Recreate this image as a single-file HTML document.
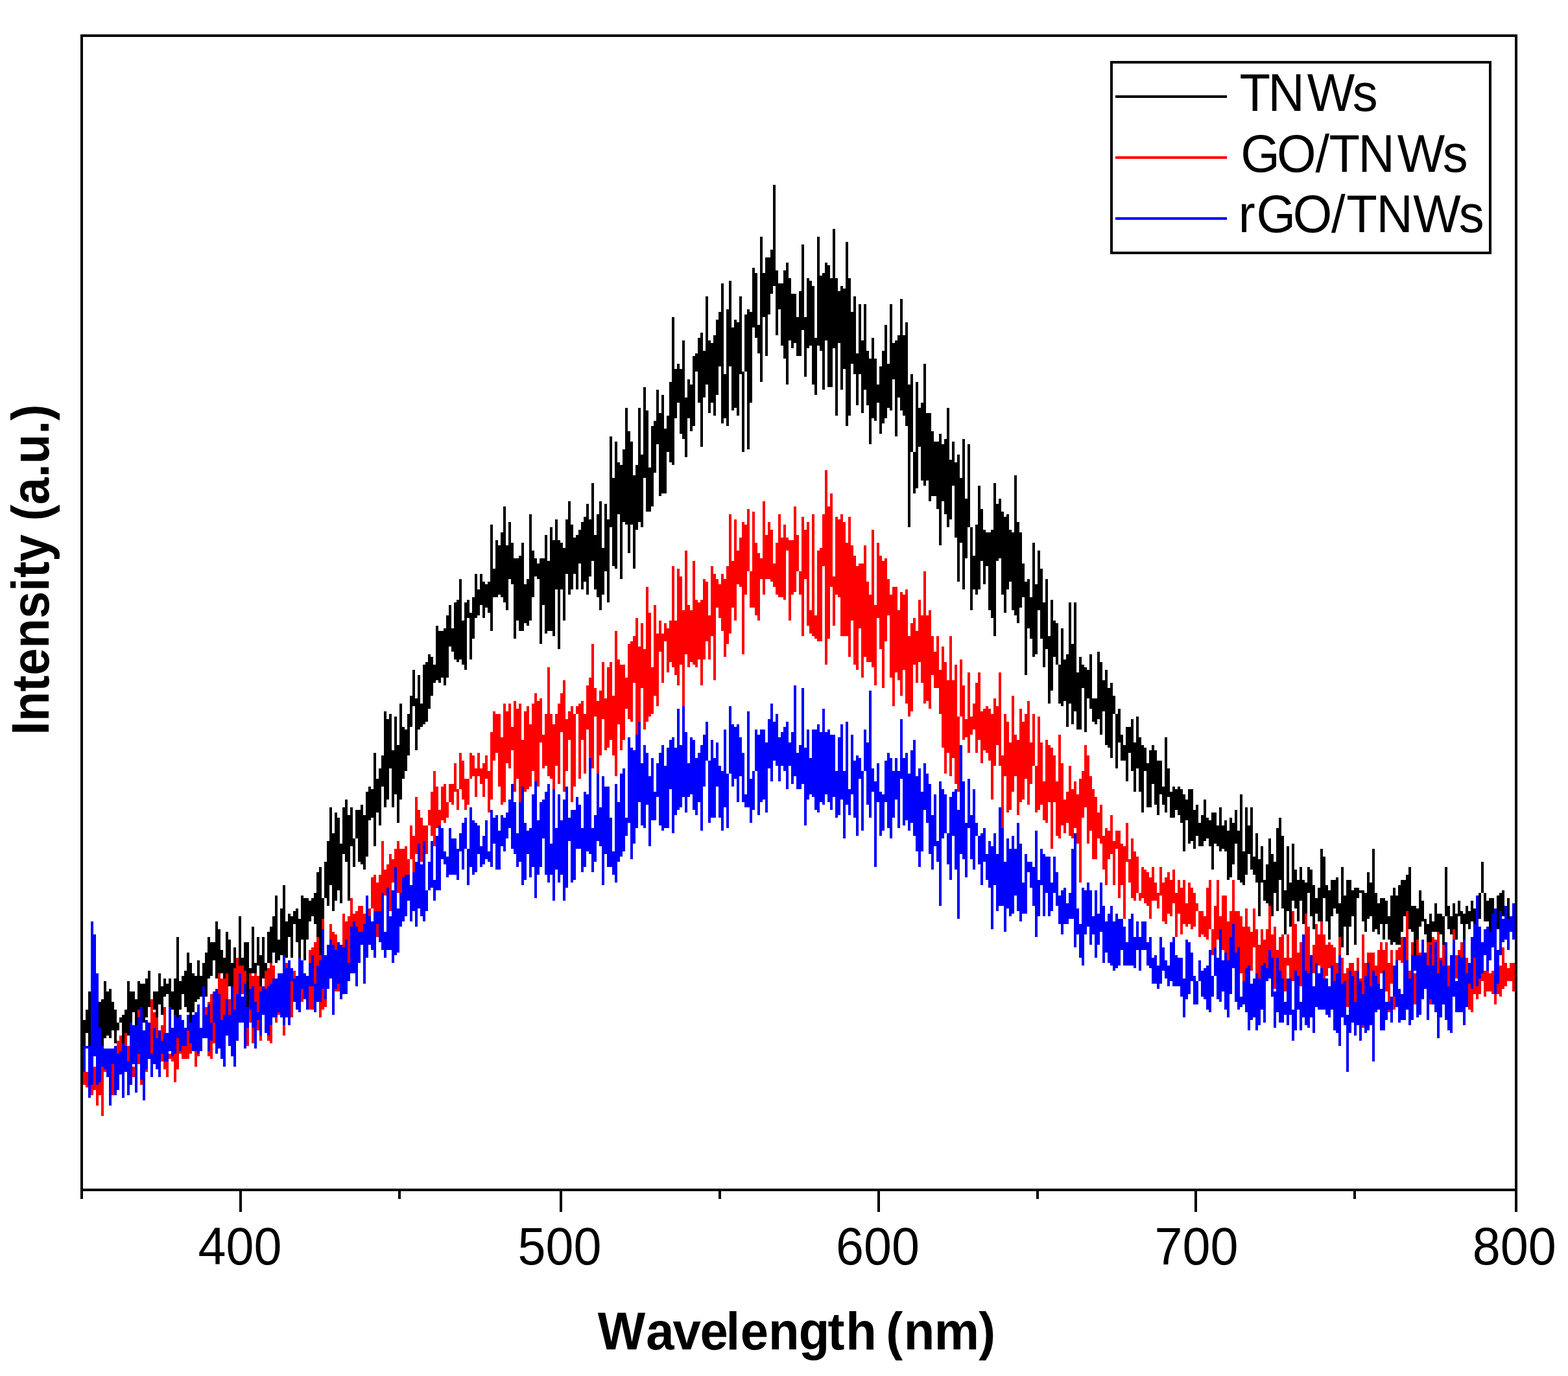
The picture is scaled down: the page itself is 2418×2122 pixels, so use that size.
<!DOCTYPE html>
<html lang="en"><head><meta charset="utf-8"><title>PL spectra</title>
<style>html,body{margin:0;padding:0;background:#fff}body{width:2418px;height:2122px;overflow:hidden}svg{display:block}</style>
</head><body>
<svg width="2418" height="2122" viewBox="0 0 2418 2122" shape-rendering="crispEdges">
<rect width="2418" height="2122" fill="#fff"/>
<g id="curves">
<path d="M126 1585V1625M130 1573V1629M134 1557V1593M138 1529V1621M142 1581V1617M146 1565V1601M150 1557V1589M154 1545V1585M158 1541V1621M162 1513V1601M166 1529V1597M170 1525V1601M174 1545V1589M178 1557V1609M182 1577V1589M186 1569V1577M190 1565V1621M194 1557V1601M198 1513V1597M202 1529V1577M206 1529V1561M210 1541V1581M214 1513V1577M218 1517V1597M222 1517V1577M226 1509V1569M230 1497V1553M234 1541V1581M238 1529V1557M242 1529V1577M246 1501V1549M250 1521V1565M254 1509V1537M258 1517V1533M262 1509V1573M266 1529V1557M270 1509V1573M274 1445V1573M278 1513V1557M282 1505V1533M286 1497V1553M290 1469V1561M294 1485V1577M298 1501V1561M302 1505V1545M306 1481V1541M310 1505V1537M314 1485V1529M318 1469V1537M322 1445V1509M326 1453V1505M330 1453V1481M334 1421V1509M338 1433V1501M342 1465V1501M346 1477V1517M350 1437V1537M354 1449V1521M358 1485V1537M362 1461V1517M366 1497V1541M370 1413V1497M374 1477V1517M378 1453V1509M382 1453V1553M386 1493V1545M390 1429V1501M394 1485V1505M398 1445V1489M402 1473V1541M406 1445V1509M410 1485V1541M414 1437V1485M418 1429V1493M422 1413V1469M426 1381V1485M430 1449V1481M434 1401V1473M438 1365V1477M442 1421V1477M446 1409V1445M450 1413V1477M454 1405V1425M458 1401V1453M462 1417V1477M466 1381V1449M470 1385V1481M474 1385V1449M478 1389V1421M482 1385V1413M486 1377V1425M490 1345V1457M494 1337V1485M498 1385V1429M502 1329V1385M506 1297V1397M510 1245V1365M514 1285V1405M518 1253V1389M522 1261V1373M526 1301V1393M530 1245V1317M534 1233V1329M538 1257V1389M542 1245V1305M546 1293V1337M550 1249V1293M554 1249V1329M558 1241V1333M562 1257V1341M566 1221V1321M570 1213V1265M574 1217V1261M578 1161V1305M582 1201V1253M586 1185V1273M590 1165V1213M594 1097V1245M598 1109V1233M602 1101V1185M606 1157V1245M610 1105V1225M614 1149V1269M618 1085V1233M622 1121V1201M626 1125V1189M630 1101V1165M634 1073V1121M638 1033V1089M642 1077V1157M646 1041V1125M650 1085V1121M654 1025V1117M658 1021V1113M662 1009V1093M666 1013V1073M670 1025V1053M674 965V1049M678 973V1053M682 973V1045M686 969V1057M690 949V1045M694 933V997M698 969V1005M702 929V1017M706 925V1021M710 893V1017M714 957V1025M718 929V1033M722 925V953M726 945V1017M730 921V985M734 885V953M738 909V949M742 885V933M746 897V953M750 901V937M754 897V945M758 809V973M762 877V921M766 833V921M770 841V917M774 821V921M778 781V929M782 841V941M786 805V893M790 837V901M794 861V985M798 861V957M802 857V973M806 837V973M810 901V961M814 893V965M818 793V957M822 849V921M826 861V889M830 869V893M834 861V993M838 861V933M842 825V977M846 865V973M850 813V973M854 833V981M858 801V909M862 833V1001M866 837V909M870 845V957M874 801V885M878 773V917M882 809V909M886 829V885M890 825V909M894 817V869M898 805V909M902 797V897M906 777V917M910 801V889M914 745V865M918 825V909M922 793V921M926 773V941M930 845V917M934 777V881M938 801V929M942 673V813M946 737V873M950 681V877M954 713V793M958 717V893M962 693V805M966 629V809M970 665V853M974 681V809M978 733V877M982 717V817M986 629V805M990 701V813M994 597V737M998 633V789M1002 721V789M1006 657V781M1010 649V729M1014 601V685M1018 637V765M1022 609V761M1026 661V761M1030 641V697M1034 589V713M1038 489V717M1042 569V645M1046 561V621M1050 569V669M1054 525V677M1058 613V705M1062 585V645M1066 593V665M1070 549V657M1074 545V573M1078 521V621M1082 513V689M1086 541V613M1090 457V593M1094 525V637M1098 529V621M1102 517V641M1106 493V609M1110 481V565M1114 437V653M1118 577V645M1122 477V657M1126 433V565M1130 505V633M1134 493V629M1138 497V641M1142 457V577M1146 573V697M1150 485V573M1154 477V693M1158 481V621M1162 413V505M1166 421V521M1170 501V545M1174 365V589M1178 421V489M1182 397V549M1186 397V485M1190 385V453M1194 285V441M1198 417V517M1202 437V477M1206 437V533M1210 417V553M1214 405V593M1218 429V525M1222 453V537M1226 453V529M1230 489V549M1234 449V549M1238 377V509M1242 489V581M1246 429V537M1250 433V533M1254 441V593M1258 521V609M1262 365V533M1266 425V541M1270 421V601M1274 405V525M1278 409V597M1282 429V597M1286 353V537M1290 429V641M1294 449V529M1298 441V601M1302 445V569M1306 373V657M1310 429V641M1314 481V561M1318 457V577M1322 545V625M1326 469V577M1330 525V637M1334 469V601M1338 541V625M1342 553V685M1346 521V645M1350 553V649M1354 593V621M1358 565V669M1362 541V653M1366 501V645M1370 561V629M1374 469V633M1378 529V585M1382 525V673M1386 517V613M1390 461V633M1394 517V641M1398 497V657M1402 593V813M1406 577V697M1410 697V761M1414 589V753M1418 629V689M1422 621V741M1426 561V749M1430 637V741M1434 637V773M1438 665V765M1442 681V765M1446 681V785M1450 669V841M1454 685V773M1458 677V793M1462 629V813M1466 709V801M1470 681V749M1474 713V829M1478 701V897M1482 737V837M1486 677V909M1490 769V861M1494 685V813M1498 813V941M1502 857V909M1506 809V917M1510 749V909M1514 785V865M1518 817V901M1522 821V873M1526 821V941M1530 817V953M1534 745V981M1538 777V865M1542 769V861M1546 789V917M1550 797V945M1554 793V909M1558 817V897M1562 821V941M1566 733V949M1570 805V961M1574 821V937M1578 869V921M1582 897V1041M1586 893V969M1590 921V985M1594 837V1013M1598 901V1009M1602 849V941M1606 877V985M1610 929V1029M1614 893V1001M1618 981V1085M1622 925V1065M1626 957V1013M1630 961V1025M1634 1025V1085M1638 969V1089M1642 1017V1081M1646 1009V1121M1650 929V1085M1654 993V1117M1658 929V1097M1662 1037V1125M1666 1013V1125M1670 1025V1061M1674 1029V1129M1678 1033V1077M1682 1009V1093M1686 1077V1113M1690 1077V1117M1694 1005V1109M1698 1021V1133M1702 1049V1097M1706 1033V1149M1710 1061V1153M1714 1053V1169M1718 1073V1101M1722 1101V1185M1726 1093V1145M1730 1133V1173M1734 1149V1173M1738 1121V1205M1742 1121V1161M1746 1109V1189M1750 1145V1221M1754 1105V1185M1758 1137V1221M1762 1149V1253M1766 1153V1189M1770 1177V1245M1774 1157V1245M1778 1149V1209M1782 1157V1241M1786 1173V1257M1790 1173V1225M1794 1213V1241M1798 1137V1253M1802 1185V1229M1806 1221V1261M1810 1213V1261M1814 1217V1249M1818 1213V1257M1822 1217V1269M1826 1225V1313M1830 1233V1265M1834 1217V1301M1838 1217V1297M1842 1249V1309M1846 1241V1289M1850 1269V1305M1854 1257V1305M1858 1233V1297M1862 1261V1293M1866 1265V1305M1870 1253V1341M1874 1253V1301M1878 1273V1305M1882 1245V1313M1886 1273V1309M1890 1265V1313M1894 1281V1357M1898 1261V1353M1902 1269V1333M1906 1249V1301M1910 1281V1357M1914 1225V1361M1918 1313V1365M1922 1245V1349M1926 1273V1317M1930 1245V1341M1934 1321V1349M1938 1285V1361M1942 1325V1413M1946 1305V1361M1950 1357V1389M1954 1333V1393M1958 1293V1405M1962 1317V1413M1966 1329V1377M1970 1277V1405M1974 1261V1357M1978 1289V1401M1982 1373V1441M1986 1305V1405M1990 1361V1429M1994 1301V1389M1998 1341V1401M2002 1357V1421M2006 1337V1389M2010 1357V1425M2014 1361V1409M2018 1337V1377M2022 1341V1413M2026 1365V1433M2030 1385V1409M2034 1369V1421M2038 1309V1441M2042 1321V1385M2046 1365V1421M2050 1373V1449M2054 1357V1413M2058 1357V1401M2062 1353V1409M2066 1393V1461M2070 1337V1461M2074 1381V1429M2078 1357V1473M2082 1357V1429M2086 1373V1413M2090 1369V1457M2094 1369V1385M2098 1373V1377M2102 1373V1421M2106 1377V1437M2110 1345V1417M2114 1361V1413M2118 1309V1437M2122 1377V1433M2126 1393V1441M2130 1385V1425M2134 1385V1449M2138 1389V1425M2142 1413V1449M2146 1381V1457M2150 1369V1453M2154 1381V1457M2158 1365V1457M2162 1357V1437M2166 1357V1413M2170 1349V1461M2174 1337V1433M2178 1397V1437M2182 1397V1473M2186 1401V1469M2190 1373V1429M2194 1389V1421M2198 1417V1441M2202 1425V1465M2206 1409V1485M2210 1421V1437M2214 1393V1437M2218 1409V1445M2222 1409V1441M2226 1413V1461M2230 1337V1413M2234 1397V1433M2238 1413V1441M2242 1393V1461M2246 1409V1449M2250 1389V1413M2254 1405V1425M2258 1409V1457M2262 1397V1425M2266 1405V1433M2270 1389V1421M2274 1401V1457M2278 1417V1445M2282 1377V1417M2286 1329V1377M2290 1377V1421M2294 1389V1421M2298 1385V1457M2302 1385V1461M2306 1413V1445M2310 1381V1433M2314 1377V1433M2318 1373V1413M2322 1397V1429M2326 1385V1453M2330 1417V1437M2334 1397V1421M2338 1393V1429" stroke="#000" stroke-width="4" fill="none"/>
<path d="M126 1633V1665M130 1649V1673M134 1653V1677M138 1637V1665M142 1649V1689M146 1645V1681M150 1633V1705M154 1645V1689M158 1629V1721M162 1629V1653M166 1625V1661M170 1637V1677M174 1633V1689M178 1617V1681M182 1605V1657M186 1597V1633M190 1625V1645M194 1593V1625M198 1613V1649M202 1585V1661M206 1645V1661M210 1621V1665M214 1557V1641M218 1617V1673M222 1601V1697M226 1581V1653M230 1585V1617M234 1541V1645M238 1561V1633M242 1569V1609M246 1589V1629M250 1581V1637M254 1553V1649M258 1605V1661M262 1625V1633M266 1609V1637M270 1585V1669M274 1597V1649M278 1569V1625M282 1577V1633M286 1613V1633M290 1585V1633M294 1589V1625M298 1569V1617M302 1573V1645M306 1565V1629M310 1593V1617M314 1573V1593M318 1553V1585M322 1545V1629M326 1533V1633M330 1549V1609M334 1525V1573M338 1501V1593M342 1509V1609M346 1509V1581M350 1501V1577M354 1541V1601M358 1565V1625M362 1493V1569M366 1477V1537M370 1489V1553M374 1489V1533M378 1497V1577M382 1577V1613M386 1501V1577M390 1505V1609M394 1501V1577M398 1505V1589M402 1521V1605M406 1525V1561M410 1497V1569M414 1493V1605M418 1485V1609M422 1489V1569M426 1537V1577M430 1533V1565M434 1517V1561M438 1477V1597M442 1485V1557M446 1509V1537M450 1501V1569M454 1497V1545M458 1513V1537M462 1509V1549M466 1497V1545M470 1517V1537M474 1509V1557M478 1465V1557M482 1461V1557M486 1453V1561M490 1445V1509M494 1473V1569M498 1417V1557M502 1477V1553M506 1469V1521M510 1425V1509M514 1437V1497M518 1441V1529M522 1461V1529M526 1461V1517M530 1409V1477M534 1421V1469M538 1413V1489M542 1385V1497M546 1409V1449M550 1405V1457M554 1397V1453M558 1397V1449M562 1409V1429M566 1381V1461M570 1401V1425M574 1353V1401M578 1349V1409M582 1361V1445M586 1349V1421M590 1297V1417M594 1341V1381M598 1333V1381M602 1317V1405M606 1325V1361M610 1309V1345M614 1297V1377M618 1309V1381M622 1309V1373M626 1305V1357M630 1325V1357M634 1273V1325M638 1289V1349M642 1229V1317M646 1249V1301M650 1261V1329M654 1273V1313M658 1273V1317M662 1249V1273M666 1221V1289M670 1189V1305M674 1213V1277M678 1249V1289M682 1213V1265M686 1209V1269M690 1237V1261M694 1209V1237M698 1209V1241M702 1177V1221M706 1217V1249M710 1161V1217M714 1173V1233M718 1201V1249M722 1201V1241M726 1161V1201M730 1165V1197M734 1185V1229M738 1161V1197M742 1185V1209M746 1177V1229M750 1165V1201M754 1189V1253M758 1129V1233M762 1097V1173M766 1101V1161M770 1101V1213M774 1137V1241M778 1085V1237M782 1097V1177M786 1085V1185M790 1121V1157M794 1081V1221M798 1093V1201M802 1085V1253M806 1141V1225M810 1097V1221M814 1089V1217M818 1117V1213M822 1085V1189M826 1069V1249M830 1081V1213M834 1077V1145M838 1133V1185M842 1101V1181M846 1029V1197M850 1101V1201M854 1117V1217M858 1101V1181M862 1085V1209M866 1069V1129M870 1049V1221M874 1109V1189M878 1097V1141M882 1089V1237M886 1101V1213M890 1089V1101M894 1085V1201M898 1081V1141M902 1101V1193M906 1057V1125M910 1045V1169M914 993V1185M918 1061V1105M922 1081V1193M926 1065V1165M930 1021V1109M934 1077V1157M938 1029V1153M942 1021V1141M946 1073V1165M950 973V1197M954 1017V1117M958 1025V1157M962 1025V1141M966 1045V1093M970 993V1109M974 989V1113M978 981V1053M982 953V1141M986 997V1125M990 961V1061M994 1001V1125M998 905V1113M1002 945V1105M1006 1029V1101M1010 933V1073M1014 977V1089M1018 957V1005M1022 977V1053M1026 961V989M1030 969V1037M1034 957V1021M1038 873V1029M1042 957V1041M1046 877V1057M1050 889V1025M1054 941V1089M1058 849V1009M1062 933V1029M1066 941V1021M1070 865V1025M1074 925V1029M1078 929V1017M1082 925V1057M1086 893V1017M1090 897V989M1094 949V1017M1098 873V981M1102 885V1049M1106 893V937M1110 901V953M1114 885V973M1118 893V1013M1122 873V993M1126 793V977M1130 865V937M1134 801V957M1138 849V901M1142 829V905M1146 805V1009M1150 809V917M1154 785V881M1158 881V937M1162 789V937M1166 837V949M1170 853V957M1174 861V893M1178 773V917M1182 825V893M1186 805V893M1190 817V897M1194 869V905M1198 837V917M1202 793V921M1206 829V921M1210 809V925M1214 829V849M1218 833V957M1222 833V917M1226 781V913M1230 825V881M1234 881V917M1238 797V981M1242 817V893M1246 805V965M1250 941V977M1254 793V981M1258 949V985M1262 849V989M1266 845V989M1270 793V873M1274 725V1025M1278 781V985M1282 761V905M1286 889V965M1290 797V917M1294 801V921M1298 793V981M1302 805V981M1306 837V981M1310 797V1013M1314 841V957M1318 857V1025M1322 873V1033M1326 869V969M1330 869V1045M1334 841V1013M1338 897V1021M1342 917V1021M1346 817V1029M1350 933V1057M1354 837V953M1358 857V1001M1362 865V1061M1366 861V989M1370 893V949M1374 917V1045M1378 905V1089M1382 905V1037M1386 941V1049M1390 913V1073M1394 917V1033M1398 909V1085M1402 981V1105M1406 961V1097M1410 953V1025M1414 973V1053M1418 925V1021M1422 949V1053M1426 881V1085M1430 949V1081M1434 941V1093M1438 981V1041M1442 1005V1061M1446 981V1061M1450 1033V1101M1454 997V1153M1458 1021V1193M1462 1049V1161M1466 981V1197M1470 1049V1169M1474 1025V1209M1478 1105V1221M1482 1017V1105M1486 1057V1141M1490 1109V1137M1494 1037V1161M1498 1105V1133M1502 1085V1125M1506 1053V1161M1510 1037V1141M1514 1097V1177M1518 1093V1157M1522 1089V1161M1526 1093V1173M1530 1101V1233M1534 1077V1181M1538 1089V1149M1542 1037V1181M1546 1165V1277M1550 1101V1197M1554 1113V1253M1558 1145V1249M1562 1073V1221M1566 1133V1197M1570 1141V1257M1574 1093V1237M1578 1113V1233M1582 1101V1201M1586 1081V1241M1590 1145V1209M1594 1101V1181M1598 1181V1253M1602 1105V1249M1606 1145V1241M1610 1205V1265M1614 1141V1269M1618 1149V1237M1622 1153V1309M1626 1165V1237M1630 1205V1289M1634 1133V1293M1638 1177V1273M1642 1233V1285M1646 1221V1269M1650 1181V1289M1654 1217V1293M1658 1205V1277M1662 1225V1301M1666 1201V1361M1670 1189V1261M1674 1149V1245M1678 1165V1301M1682 1197V1281M1686 1217V1325M1690 1229V1325M1694 1253V1293M1698 1241V1301M1702 1289V1341M1706 1277V1365M1710 1281V1325M1714 1257V1317M1718 1297V1365M1722 1281V1309M1726 1281V1385M1730 1301V1365M1734 1305V1417M1738 1269V1329M1742 1325V1361M1746 1293V1385M1750 1313V1389M1754 1321V1377M1758 1377V1389M1762 1337V1385M1766 1341V1393M1770 1345V1397M1774 1353V1417M1778 1337V1389M1782 1361V1389M1786 1377V1401M1790 1337V1381M1794 1361V1421M1798 1353V1425M1802 1345V1409M1806 1357V1413M1810 1341V1393M1814 1377V1445M1818 1357V1409M1822 1369V1441M1826 1357V1425M1830 1393V1429M1834 1361V1425M1838 1369V1433M1842 1377V1429M1846 1393V1405M1850 1405V1445M1854 1405V1441M1858 1413V1445M1862 1369V1449M1866 1357V1433M1870 1433V1473M1874 1397V1481M1878 1357V1449M1882 1413V1481M1886 1381V1465M1890 1381V1489M1894 1421V1493M1898 1405V1465M1902 1357V1493M1906 1405V1525M1910 1405V1521M1914 1413V1501M1918 1429V1521M1922 1401V1497M1926 1429V1513M1930 1437V1497M1934 1401V1461M1938 1433V1517M1942 1457V1525M1946 1433V1509M1950 1449V1533M1954 1433V1497M1958 1397V1473M1962 1441V1481M1966 1429V1525M1970 1465V1525M1974 1445V1525M1978 1441V1529M1982 1477V1529M1986 1441V1489M1990 1477V1529M1994 1405V1513M1998 1425V1525M2002 1469V1509M2006 1453V1521M2010 1469V1541M2014 1409V1541M2018 1429V1513M2022 1493V1549M2026 1457V1501M2030 1425V1521M2034 1441V1489M2038 1421V1537M2042 1441V1537M2046 1457V1505M2050 1453V1493M2054 1457V1513M2058 1461V1513M2062 1485V1525M2066 1445V1529M2070 1477V1517M2074 1501V1549M2078 1493V1553M2082 1485V1545M2086 1485V1537M2090 1497V1561M2094 1477V1533M2098 1509V1545M2102 1441V1585M2106 1485V1525M2110 1469V1541M2114 1469V1573M2118 1469V1525M2122 1489V1557M2126 1465V1557M2130 1453V1501M2134 1465V1529M2138 1453V1529M2142 1485V1561M2146 1465V1517M2150 1489V1557M2154 1465V1509M2158 1461V1481M2162 1445V1485M2166 1449V1517M2170 1405V1549M2174 1497V1549M2178 1453V1553M2182 1501V1549M2186 1449V1517M2190 1469V1549M2194 1457V1533M2198 1477V1521M2202 1453V1505M2206 1453V1549M2210 1445V1537M2214 1449V1505M2218 1437V1513M2222 1477V1517M2226 1457V1521M2230 1481V1549M2234 1489V1553M2238 1481V1553M2242 1433V1529M2246 1473V1509M2250 1465V1553M2254 1453V1525M2258 1457V1501M2262 1477V1501M2266 1501V1557M2270 1445V1561M2274 1457V1533M2278 1477V1541M2282 1489V1533M2286 1489V1513M2290 1497V1537M2294 1489V1529M2298 1501V1529M2302 1497V1533M2306 1485V1549M2310 1477V1533M2314 1489V1537M2318 1461V1525M2322 1485V1521M2326 1493V1513M2330 1485V1513M2334 1485V1529M2338 1497V1541" stroke="#f00" stroke-width="4" fill="none"/>
<path d="M126 1609V1669M130 1613V1653M134 1613V1617M138 1613V1693M142 1421V1673M146 1441V1629M150 1501V1673M154 1585V1669M158 1613V1645M162 1617V1649M166 1617V1661M170 1617V1705M174 1617V1641M178 1613V1689M182 1625V1681M186 1621V1657M190 1609V1693M194 1613V1653M198 1637V1689M202 1577V1673M206 1581V1641M210 1581V1685M214 1569V1625M218 1553V1665M222 1589V1697M226 1573V1649M230 1577V1633M234 1625V1661M238 1585V1641M242 1601V1649M246 1589V1661M250 1605V1625M254 1593V1637M258 1593V1637M262 1553V1621M266 1585V1629M270 1565V1625M274 1569V1601M278 1565V1621M282 1573V1613M286 1585V1613M290 1565V1589M294 1577V1609M298 1565V1621M302 1561V1621M306 1549V1625M310 1585V1621M314 1521V1601M318 1565V1601M322 1549V1621M326 1577V1605M330 1529V1577M334 1525V1625M338 1533V1617M342 1573V1633M346 1565V1645M350 1541V1597M354 1565V1613M358 1521V1629M362 1557V1645M366 1533V1605M370 1501V1577M374 1537V1577M378 1517V1617M382 1553V1585M386 1525V1557M390 1521V1585M394 1545V1617M398 1561V1573M402 1529V1597M406 1521V1565M410 1525V1593M414 1521V1597M418 1517V1581M422 1509V1569M426 1509V1569M430 1501V1561M434 1501V1569M438 1473V1581M442 1493V1569M446 1481V1581M450 1493V1513M454 1509V1545M458 1505V1557M462 1477V1561M466 1481V1525M470 1501V1541M474 1505V1557M478 1485V1521M482 1473V1521M486 1517V1561M490 1489V1545M494 1481V1545M498 1433V1525M502 1473V1541M506 1457V1525M510 1449V1509M514 1457V1565M518 1465V1525M522 1453V1517M526 1457V1541M530 1461V1533M534 1449V1533M538 1485V1513M542 1429V1501M546 1421V1501M550 1429V1521M554 1437V1485M558 1437V1457M562 1425V1517M566 1381V1477M570 1413V1457M574 1421V1465M578 1405V1477M582 1405V1425M586 1405V1453M590 1377V1465M594 1437V1477M598 1369V1465M602 1413V1465M606 1373V1485M610 1337V1473M614 1401V1469M618 1377V1429M622 1353V1421M626 1349V1413M630 1349V1389M634 1365V1421M638 1345V1405M642 1329V1429M646 1301V1401M650 1333V1413M654 1297V1421M658 1373V1405M662 1329V1373M666 1297V1369M670 1357V1389M674 1289V1373M678 1273V1373M682 1277V1325M686 1313V1333M690 1321V1353M694 1277V1349M698 1293V1349M702 1293V1349M706 1309V1357M710 1285V1313M714 1269V1341M718 1261V1309M722 1309V1365M726 1245V1337M730 1265V1349M734 1269V1345M738 1273V1317M742 1305V1337M746 1289V1333M750 1265V1325M754 1313V1329M758 1249V1337M762 1261V1301M766 1257V1341M770 1281V1341M774 1257V1305M778 1261V1313M782 1253V1293M786 1233V1277M790 1209V1309M794 1237V1317M798 1285V1337M802 1237V1329M806 1213V1365M810 1269V1357M814 1281V1317M818 1277V1353M822 1225V1337M826 1205V1385M830 1265V1349M834 1237V1337M838 1233V1293M842 1221V1349M846 1209V1361M850 1301V1349M854 1217V1389M858 1277V1341M862 1225V1361M866 1265V1349M870 1233V1389M874 1213V1369M878 1261V1297M882 1249V1361M886 1249V1357M890 1229V1309M894 1241V1309M898 1277V1345M902 1221V1337M906 1225V1313M910 1169V1317M914 1277V1345M918 1257V1329M922 1193V1297M926 1245V1305M930 1197V1365M934 1213V1317M938 1213V1337M942 1261V1337M946 1313V1349M950 1209V1361M954 1237V1329M958 1193V1321M962 1185V1313M966 1261V1289M970 1137V1269M974 1153V1325M978 1157V1301M982 1133V1277M986 1113V1237M990 1177V1273M994 1149V1277M998 1161V1241M1002 1197V1305M1006 1169V1265M1010 1221V1265M1014 1177V1229M1018 1161V1273M1022 1149V1281M1026 1181V1277M1030 1153V1277M1034 1141V1217M1038 1137V1285M1042 1153V1257M1046 1093V1249M1050 1149V1245M1054 1089V1229M1058 1129V1253M1062 1177V1229M1066 1137V1225M1070 1141V1249M1074 1169V1257M1078 1161V1237M1082 1149V1281M1086 1133V1213M1090 1113V1173M1094 1173V1269M1098 1141V1261M1102 1169V1261M1106 1145V1213M1110 1181V1261M1114 1189V1281M1118 1125V1245M1122 1193V1277M1126 1089V1193M1130 1117V1213M1134 1121V1201M1138 1117V1237M1142 1137V1197M1146 1161V1237M1150 1225V1245M1154 1097V1245M1158 1201V1269M1162 1189V1249M1166 1125V1189M1170 1133V1257M1174 1125V1237M1178 1125V1233M1182 1145V1253M1186 1109V1185M1190 1085V1205M1194 1113V1173M1198 1101V1181M1202 1137V1205M1206 1129V1181M1210 1121V1189M1214 1113V1217M1218 1145V1181M1222 1129V1209M1226 1057V1197M1230 1161V1217M1234 1149V1217M1238 1061V1209M1242 1153V1273M1246 1125V1233M1250 1169V1225M1254 1125V1229M1258 1125V1249M1262 1117V1253M1266 1129V1237M1270 1093V1241M1274 1129V1225M1278 1125V1237M1282 1133V1249M1286 1133V1229M1290 1189V1261M1294 1137V1257M1298 1117V1233M1302 1189V1293M1306 1113V1241M1310 1217V1257M1314 1133V1225M1318 1173V1261M1322 1165V1289M1326 1169V1201M1330 1189V1281M1334 1125V1189M1338 1145V1241M1342 1065V1261M1346 1185V1221M1350 1205V1337M1354 1177V1237M1358 1221V1289M1362 1225V1281M1366 1173V1237M1370 1161V1277M1374 1169V1293M1378 1189V1261M1382 1169V1233M1386 1189V1277M1390 1109V1201M1394 1169V1273M1398 1161V1265M1402 1193V1281M1406 1157V1269M1410 1141V1289M1414 1197V1313M1418 1185V1337M1422 1221V1313M1426 1177V1249M1430 1193V1269M1434 1209V1317M1438 1257V1341M1442 1225V1305M1446 1297V1329M1450 1205V1397M1454 1217V1293M1458 1225V1285M1462 1285V1333M1466 1229V1357M1470 1221V1289M1474 1217V1341M1478 1249V1417M1482 1149V1317M1486 1205V1325M1490 1269V1353M1494 1201V1277M1498 1257V1325M1502 1217V1341M1506 1269V1289M1510 1289V1333M1514 1285V1365M1518 1277V1329M1522 1317V1357M1526 1297V1369M1530 1305V1433M1534 1285V1365M1538 1317V1405M1542 1245V1397M1546 1277V1397M1550 1329V1437M1554 1293V1401M1558 1309V1413M1562 1289V1409M1566 1309V1381M1570 1269V1405M1574 1301V1421M1578 1361V1409M1582 1317V1409M1586 1329V1345M1590 1329V1369M1594 1337V1397M1598 1281V1445M1602 1357V1413M1606 1309V1365M1610 1317V1413M1614 1321V1377M1618 1321V1413M1622 1361V1405M1626 1321V1377M1630 1345V1397M1634 1381V1425M1638 1373V1441M1642 1369V1425M1646 1393V1425M1650 1377V1417M1654 1309V1417M1658 1285V1461M1662 1401V1441M1666 1425V1477M1670 1369V1489M1674 1373V1441M1678 1361V1429M1682 1373V1457M1686 1413V1441M1690 1373V1477M1694 1409V1457M1698 1361V1437M1702 1397V1485M1706 1421V1469M1710 1409V1485M1714 1397V1489M1718 1421V1497M1722 1409V1493M1726 1417V1489M1730 1417V1465M1734 1429V1489M1738 1453V1489M1742 1417V1489M1746 1409V1489M1750 1445V1493M1754 1421V1465M1758 1445V1497M1762 1421V1465M1766 1421V1465M1770 1453V1489M1774 1445V1493M1778 1477V1517M1782 1473V1517M1786 1489V1525M1790 1445V1517M1794 1461V1497M1798 1481V1509M1802 1489V1521M1806 1453V1513M1810 1445V1521M1814 1473V1521M1818 1477V1521M1822 1477V1537M1826 1509V1569M1830 1449V1541M1834 1453V1533M1838 1469V1513M1842 1505V1549M1846 1513V1549M1850 1481V1513M1854 1497V1537M1858 1493V1541M1862 1489V1557M1866 1465V1561M1870 1505V1537M1874 1461V1505M1878 1477V1541M1882 1433V1545M1886 1481V1529M1890 1469V1557M1894 1481V1569M1898 1445V1533M1902 1425V1493M1906 1469V1545M1910 1461V1557M1914 1537V1553M1918 1513V1549M1922 1493V1561M1926 1489V1589M1930 1517V1573M1934 1509V1569M1938 1501V1589M1942 1509V1581M1946 1489V1557M1950 1485V1577M1954 1493V1513M1958 1465V1509M1962 1477V1537M1966 1529V1585M1970 1477V1561M1974 1497V1577M1978 1509V1577M1982 1545V1565M1986 1509V1581M1990 1509V1565M1994 1557V1605M1998 1497V1589M2002 1505V1557M2006 1545V1589M2010 1441V1569M2014 1497V1581M2018 1501V1585M2022 1473V1569M2026 1521V1593M2030 1485V1553M2034 1501V1557M2038 1493V1557M2042 1509V1557M2046 1509V1565M2050 1521V1569M2054 1489V1557M2058 1513V1589M2062 1501V1593M2066 1473V1613M2070 1517V1569M2074 1513V1581M2078 1565V1653M2082 1497V1593M2086 1505V1577M2090 1545V1597M2094 1497V1581M2098 1513V1605M2102 1533V1581M2106 1505V1593M2110 1485V1589M2114 1521V1581M2118 1497V1637M2122 1505V1561M2126 1517V1557M2130 1525V1589M2134 1497V1589M2138 1545V1573M2142 1545V1557M2146 1537V1577M2150 1489V1537M2154 1481V1553M2158 1525V1577M2162 1533V1573M2166 1445V1573M2170 1481V1557M2174 1509V1581M2178 1473V1573M2182 1473V1497M2186 1473V1569M2190 1473V1565M2194 1449V1541M2198 1469V1525M2202 1489V1573M2206 1457V1541M2210 1489V1549M2214 1453V1561M2218 1501V1601M2222 1481V1569M2226 1489V1549M2230 1453V1573M2234 1521V1589M2238 1473V1593M2242 1449V1537M2246 1513V1561M2250 1473V1561M2254 1477V1561M2258 1449V1581M2262 1501V1553M2266 1485V1517M2270 1445V1525M2274 1425V1477M2278 1381V1521M2282 1429V1509M2286 1453V1501M2290 1433V1473M2294 1429V1497M2298 1437V1481M2302 1409V1461M2306 1401V1533M2310 1465V1517M2314 1405V1473M2318 1417V1453M2322 1397V1449M2326 1417V1465M2330 1413V1437M2334 1393V1449M2338 1421V1461" stroke="#00f" stroke-width="4" fill="none"/>
</g>
<g id="frame" fill="#000">
<rect x="124" y="53" width="2216" height="4"/>
<rect x="124" y="1833" width="2216" height="4"/>
<rect x="124" y="53" width="4" height="1784"/>
<rect x="2336" y="53" width="4" height="1784"/>
<rect x="124" y="1835" width="4" height="14"/><rect x="369" y="1835" width="4" height="34"/><rect x="614" y="1835" width="4" height="14"/><rect x="863" y="1835" width="4" height="34"/><rect x="1108" y="1835" width="4" height="14"/><rect x="1353" y="1835" width="4" height="34"/><rect x="1598" y="1835" width="4" height="14"/><rect x="1842" y="1835" width="4" height="34"/><rect x="2087" y="1835" width="4" height="14"/><rect x="2336" y="1835" width="4" height="34"/>
</g>
<g id="legend">
<rect x="1714" y="96" width="584" height="294" fill="#fff" stroke="#000" stroke-width="4"/>
<rect x="1720" y="147" width="172" height="4" fill="#000"/>
<rect x="1720" y="241" width="172" height="4" fill="#f00"/>
<rect x="1720" y="335" width="172" height="4" fill="#00f"/>
<g font-family="'Liberation Sans', Arial, sans-serif" font-size="82" fill="#000" shape-rendering="auto">
<text transform="scale(0.95 1)" x="2012.2 2058.4 2121.9 2195.6" y="171" font-size="82">TNWs</text>
<text transform="scale(0.95 1)" x="2013.9 2072.7 2135.3 2157.3 2204.7 2268.2 2341.8" y="264.8" font-size="82">GO/TNWs</text>
<text transform="scale(0.95 1)" x="2010.3 2039.6 2098.7 2161.1 2185.6 2234.1 2293.9 2368.2" y="358.5" font-size="82">rGO/TNWs</text>
</g>
</g>
<g font-family="'Liberation Sans', Arial, sans-serif" font-size="81" fill="#000">
<text x="370" y="1950.4" text-anchor="middle" textLength="129" lengthAdjust="spacingAndGlyphs">400</text><text x="863" y="1950.4" text-anchor="middle" textLength="129" lengthAdjust="spacingAndGlyphs">500</text><text x="1353.5" y="1950.4" text-anchor="middle" textLength="129" lengthAdjust="spacingAndGlyphs">600</text><text x="1845" y="1950.4" text-anchor="middle" textLength="129" lengthAdjust="spacingAndGlyphs">700</text><text x="2335.3" y="1950.4" text-anchor="middle" textLength="129" lengthAdjust="spacingAndGlyphs">800</text>
</g>
<g font-family="'Liberation Sans', Arial, sans-serif" font-size="82" font-weight="bold" fill="#000">
<text transform="scale(0.95 1)" x="970.4 1048.8 1092.2 1136.2 1178.4 1201.9 1247.5 1296.5 1343.8 1372.9 1423.0 1438.2 1467.0 1516.5 1588.8" y="2081" font-size="82" font-weight="bold">Wavelength (nm)</text>
<text transform="translate(75.3 878.5) rotate(-90)" text-anchor="middle" textLength="510" lengthAdjust="spacingAndGlyphs">Intensity (a.u.)</text>
</g>
</svg>
</body></html>
